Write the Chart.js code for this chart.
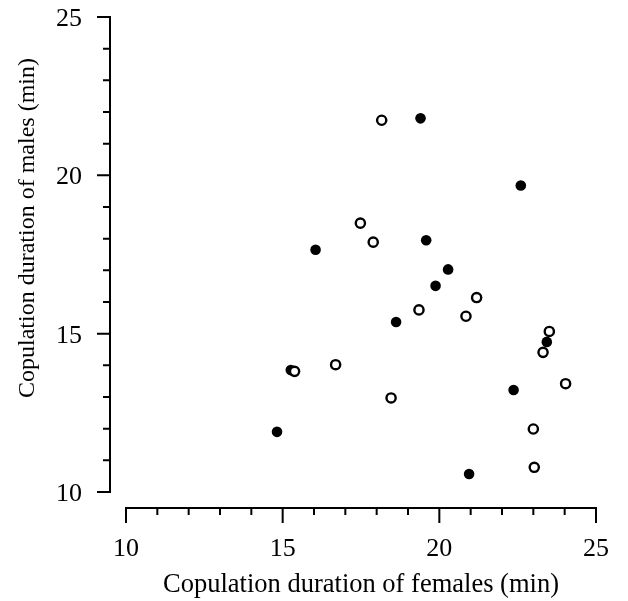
<!DOCTYPE html>
<html>
<head>
<meta charset="utf-8">
<script src="https://cdn.jsdelivr.net/npm/chart.js@4"></script>
<style>
  html, body { margin: 0; padding: 0; background: #fff; }
  #wrap { width: 628px; height: 601px; position: relative; }
</style>
</head>
<body>
<div id="wrap"><canvas id="scatterChart"></canvas></div>
<script>
// open circles
const openX = [18.16, 17.48, 17.89, 21.19, 19.35, 20.85, 23.51, 23.31, 15.38, 16.69, 24.03, 18.46, 23.00, 23.03];
const openY = [21.74, 18.49, 17.89, 16.14, 15.75, 15.55, 15.07, 14.41, 13.81, 14.02, 13.42, 12.97, 11.99, 10.78];
// filled circles
const filledX = [19.40, 22.60, 16.05, 19.58, 20.28, 19.88, 18.62, 23.43, 15.26, 22.37, 14.82, 20.95];
const filledY = [21.80, 19.68, 17.65, 17.95, 17.03, 16.51, 15.37, 14.74, 13.85, 13.22, 11.90, 10.57];

const xTicks = [10, 15, 20, 25];
const yTicks = [10, 15, 20, 25];
const xTitle = 'Copulation duration of females (min)';
const yTitle = 'Copulation duration of males (min)';

const toPoints = (xs, ys) => xs.map((x, i) => ({ x: x, y: ys[i] }));

// detached axes, drawn from the chart's own scales
const detachedAxes = {
    id: 'detachedAxes',
    afterDraw(chart) {
        const ctx = chart.ctx;
        const xs = chart.scales.x;
        const ys = chart.scales.y;
        const axisY = 508;
        const axisX = 110;
        ctx.save();
        ctx.strokeStyle = '#000';
        ctx.fillStyle = '#000';
        ctx.lineWidth = 2;
        ctx.lineCap = 'butt';

        // x axis
        ctx.beginPath();
        ctx.moveTo(xs.getPixelForValue(10) - 1, axisY);
        ctx.lineTo(xs.getPixelForValue(25) + 1, axisY);
        for (let v = 10; v <= 25; v++) {
            const px = xs.getPixelForValue(v);
            const len = xTicks.includes(v) ? 15 : 7;
            ctx.moveTo(px, axisY);
            ctx.lineTo(px, axisY + len);
        }
        ctx.stroke();

        // y axis
        ctx.beginPath();
        ctx.moveTo(axisX, ys.getPixelForValue(25) - 1);
        ctx.lineTo(axisX, ys.getPixelForValue(10) + 1);
        for (let v = 10; v <= 25; v++) {
            const py = ys.getPixelForValue(v);
            const len = yTicks.includes(v) ? 13 : 7;
            ctx.moveTo(axisX, py);
            ctx.lineTo(axisX - len, py);
        }
        ctx.stroke();

        // tick labels
        ctx.font = '26px "Liberation Serif", "Times New Roman", serif';
        ctx.textAlign = 'center';
        ctx.textBaseline = 'alphabetic';
        xTicks.forEach(v => ctx.fillText(String(v), xs.getPixelForValue(v), 556));
        ctx.textAlign = 'right';
        yTicks.forEach(v => ctx.fillText(String(v), 82, ys.getPixelForValue(v) + 9));

        // titles
        ctx.textAlign = 'center';
        ctx.font = '26.5px "Liberation Serif", "Times New Roman", serif';
        ctx.fillText(xTitle, (xs.left + xs.right) / 2, 592);
        ctx.save();
        ctx.translate(34, 228);
        ctx.rotate(-Math.PI / 2);
        ctx.font = '24px "Liberation Serif", "Times New Roman", serif';
        ctx.fillText(yTitle, 0, 0);
        ctx.restore();
        ctx.restore();
    }
};

new Chart(document.getElementById('scatterChart').getContext('2d'), {
    type: 'scatter',
    data: {
        datasets: [
            {
                label: 'open',
                data: toPoints(openX, openY),
                backgroundColor: '#fff',
                borderColor: '#000',
                borderWidth: 2.4,
                pointRadius: 4.6
            },
            {
                label: 'filled',
                data: toPoints(filledX, filledY),
                backgroundColor: '#000',
                borderColor: '#000',
                borderWidth: 0,
                pointRadius: 5.3
            }
        ]
    },
    options: {
        responsive: true,
        maintainAspectRatio: false,
        animation: false,
        layout: { padding: { left: 126, right: 32, top: 17, bottom: 109 } },
        plugins: { legend: { display: false }, tooltip: { enabled: false } },
        scales: {
            x: { type: 'linear', min: 10, max: 25, display: false },
            y: { type: 'linear', min: 10, max: 25, display: false }
        }
    },
    plugins: [detachedAxes]
});
</script>
</body>
</html>
